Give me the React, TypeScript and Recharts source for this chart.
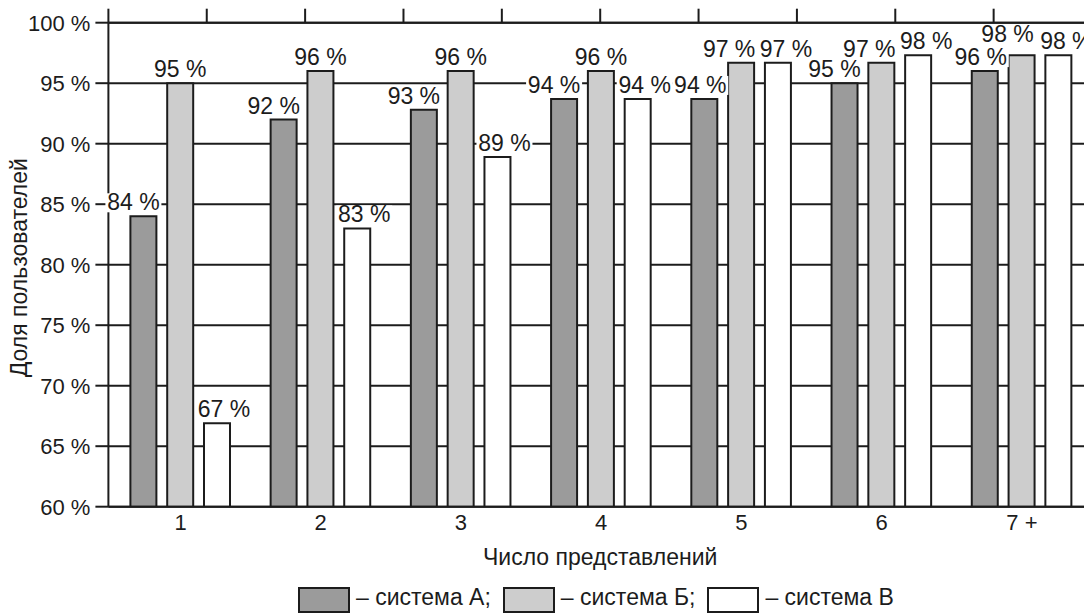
import React from 'react';
import { BarChart, Bar, XAxis, YAxis, CartesianGrid, LabelList, Legend } from 'recharts';

const categories = ['1', '2', '3', '4', '5', '6', '7 +'];
const systemA = [84.0, 92.0, 92.8, 93.7, 93.7, 95.0, 96.0];
const systemB = [95.0, 96.0, 96.0, 96.0, 96.7, 96.7, 97.3];
const systemV = [66.9, 83.0, 88.9, 93.7, 96.7, 97.3, 97.3];
const labelsA = [84, 92, 93, 94, 94, 95, 96];
const labelsB = [95, 96, 96, 96, 97, 97, 98];
const labelsV = [67, 83, 89, 94, 97, 98, 98];
const yTicks = [60, 65, 70, 75, 80, 85, 90, 95, 100];
const topTicks = [0, 1, 2, 3, 4, 5, 6, 7, 8, 9, 10];
const seriesNames = ['система А', 'система Б', 'система В'];

const COLORS = ['#9b9b9b', '#cdcdcd', '#ffffff'];
const INK = '#1c1c1c';
const FONT = '"Liberation Sans", Arial, Helvetica, sans-serif';

const data = categories.map((cat, i) => ({
  cat,
  ti: i,
  a: systemA[i],
  b: systemB[i],
  v: systemV[i],
  la: labelsA[i],
  lb: labelsB[i],
  lv: labelsV[i],
}));

function makeLabel(series: 'a' | 'b' | 'v') {
  return (p: any) => {
    const vb = p.viewBox ?? {};
    const x = Number(p.x ?? vb.x);
    const y = Number(p.y ?? vb.y);
    const w = Number(p.width ?? vb.width);
    const i = Number(p.index);
    const bvCollide = Math.abs(systemB[i] - systemV[i]) < 1.5;
    let dx = 0;
    let dy = 0;
    if (series === 'a') {
      const prevCollide = i > 0 && Math.abs(systemA[i] - systemV[i - 1]) < 1.5;
      dx = prevCollide ? -4 : -10;
    }
    if (series === 'b') {
      dx = bvCollide ? -12 : 0;
      if (systemB[i] - systemA[i] < 1.5) { dy = -7; dx = -14; }
    }
    if (series === 'v') dx = bvCollide ? 8 : 7;
    const cx = x + w / 2 + dx;
    const by = y - 6 + dy;
    return (
      <g>
        <rect x={cx - 28} y={by - 17} width={56} height={19} fill="#ffffff" />
        <text x={cx} y={by} textAnchor="middle" fontSize={23} fontFamily={FONT} fill={INK}>
          {`${p.value} %`}
        </text>
      </g>
    );
  };
}

const YTitle = (p: any) => {
  const vb = p.viewBox ?? { x: 0, y: 22.7, width: 108, height: 484 };
  const x = vb.x + 27;
  const y = vb.y + vb.height / 2 + 3;
  return (
    <text
      x={x}
      y={y}
      transform={`rotate(-90 ${x} ${y})`}
      textAnchor="middle"
      fontSize={23}
      fontFamily={FONT}
      fill={INK}
    >
      Доля пользователей
    </text>
  );
};

const EmptyTick = () => <g />;

const LegendRow = () => (
  <div style={{ display: 'flex', alignItems: 'flex-start', fontFamily: FONT, fontSize: 23, color: INK, whiteSpace: 'nowrap' }}>
    {seriesNames.map((name, i) => (
      <React.Fragment key={name}>
        <span
          style={{
            display: 'inline-block',
            width: 48,
            height: 22,
            border: `2px solid ${INK}`,
            background: COLORS[i],
            marginLeft: i === 0 ? 0 : 12,
          }}
        />
        <span style={{ lineHeight: '20px', marginLeft: 6 }}>
          {`– ${name}${i < seriesNames.length - 1 ? ';' : ''}`}
        </span>
      </React.Fragment>
    ))}
  </div>
);

export default function App() {
  const tickStyle = { fontSize: 22, fontFamily: FONT, fill: INK };
  const line = { stroke: INK, strokeWidth: 2 };
  return (
    <div style={{ position: 'fixed', left: 0, top: 0, width: 1084, height: 615, overflow: 'hidden', background: '#fff' }}>
      <BarChart
        width={1092}
        height={615}
        data={data}
        margin={{ top: 21.7, right: 0, bottom: 48.3, left: 0 }}
        barSize={26}
        barGap={10.8}
      >
        <CartesianGrid xAxisId="cat" vertical={false} stroke={INK} strokeWidth={2} horizontalValues={yTicks} />
        <XAxis
          xAxisId="top"
          dataKey="ti"
          orientation="top"
          type="number"
          domain={[0, 10]}
          ticks={topTicks}
          tick={EmptyTick}
          tickSize={14}
          height={1}
          axisLine={line}
          tickLine={line}
          interval={0}
          allowDataOverflow
        />
        <XAxis
          xAxisId="cat"
          dataKey="cat"
          height={60}
          padding={{ left: 2, right: 0 }}
          tickLine={false}
          tickSize={0}
          tickMargin={8}
          axisLine={line}
          tick={tickStyle}
          interval={0}
          label={{ value: 'Число представлений', position: 'insideBottom', offset: 2, fontSize: 23, fontFamily: FONT, fill: INK }}
        />
        <YAxis
          type="number"
          domain={[60, 100]}
          ticks={yTicks}
          width={108.4}
          tickSize={13}
          tickMargin={5}
          axisLine={line}
          tickLine={line}
          tick={tickStyle}
          tickFormatter={(v: number) => `${v} %`}
          allowDataOverflow
          label={{ content: YTitle }}
        />
        <Bar xAxisId="cat" dataKey="a" name={seriesNames[0]} fill={COLORS[0]} stroke={INK} strokeWidth={2} isAnimationActive={false}>
          <LabelList dataKey="la" content={makeLabel('a')} />
        </Bar>
        <Bar xAxisId="cat" dataKey="b" name={seriesNames[1]} fill={COLORS[1]} stroke={INK} strokeWidth={2} isAnimationActive={false}>
          <LabelList dataKey="lb" content={makeLabel('b')} />
        </Bar>
        <Bar xAxisId="cat" dataKey="v" name={seriesNames[2]} fill={COLORS[2]} stroke={INK} strokeWidth={2} isAnimationActive={false}>
          <LabelList dataKey="lv" content={makeLabel('v')} />
        </Bar>
        <Legend
          layout="horizontal"
          verticalAlign="middle"
          align="center"
          wrapperStyle={{ top: 587, left: 298, width: 'auto', height: 26 }}
          content={() => <LegendRow />}
        />
      </BarChart>
    </div>
  );
}
